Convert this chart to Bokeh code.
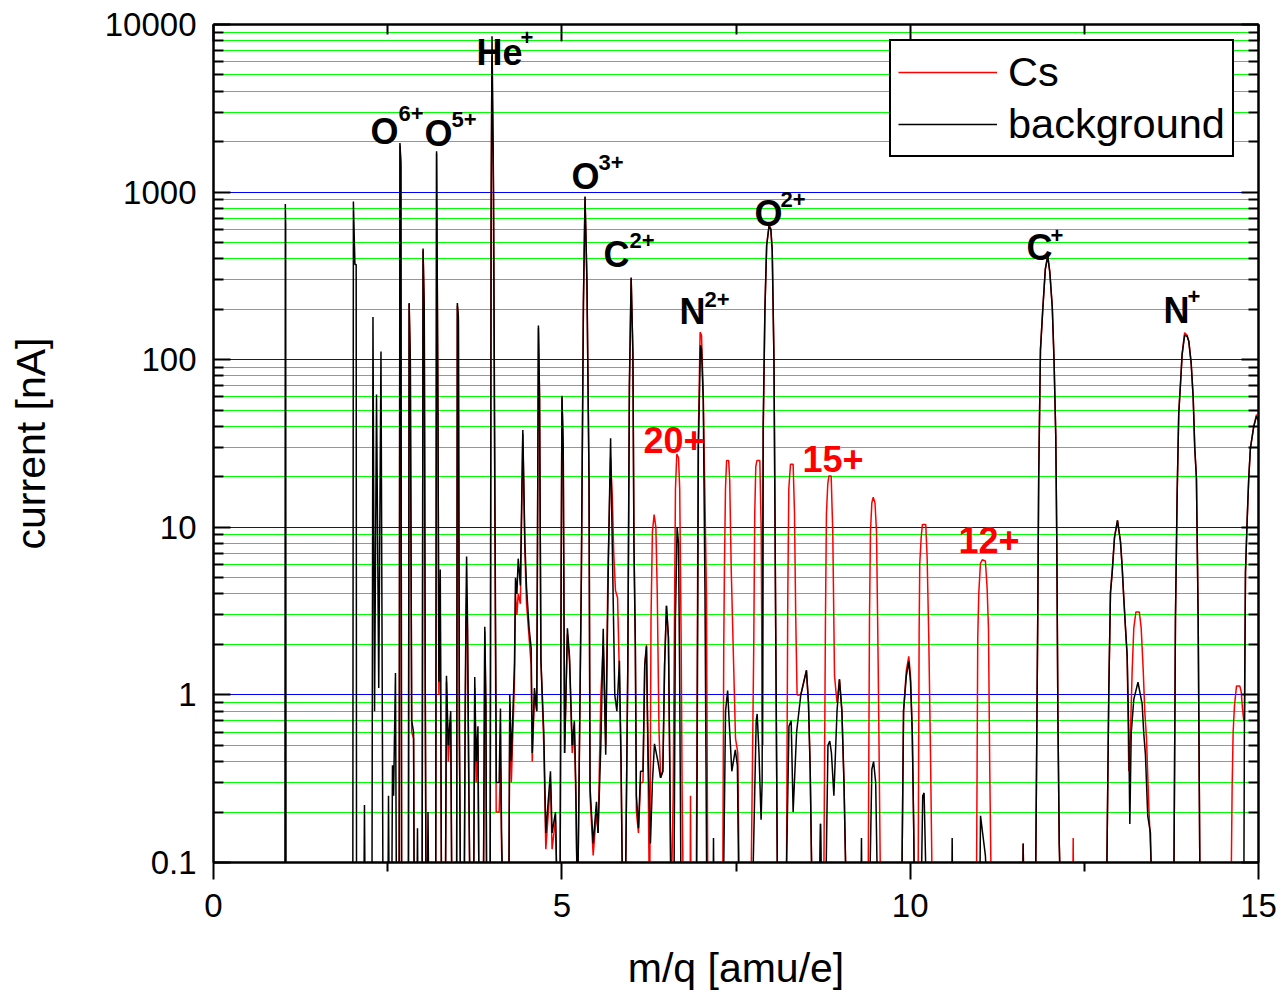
from bokeh.plotting import figure
from bokeh.models import (FixedTicker, LinearAxis, LogAxis, Range1d, Legend, LegendItem,
                          CustomJSTickFormatter, CustomLabelingPolicy)
from bokeh.core.properties import value
from bokeh.embed import file_html
from bokeh.resources import INLINE

# value used for points that lie below the 0.1 nA floor of the plot
F = 0.07

# (m/q [amu/e], current [nA]) -- background spectrum
bg_spectrum = [
    (1.025, F), (1.031, 850), (1.036, 640), (1.041, F),
    (2.000, F), (2.008, 880), (2.030, 370), (2.048, 370), (2.053, F),
    (2.160, F), (2.167, 0.22), (2.175, F),
    (2.275, F), (2.289, 180), (2.312, 0.8), (2.340, 62), (2.372, 1.1), (2.404, 112), (2.425, 0.5), (2.432, F),
    (2.505, F), (2.512, 0.25), (2.520, F),
    (2.560, F), (2.569, 0.38), (2.585, 0.25), (2.612, 1.35), (2.625, F),
    (2.665, F), (2.676, 1960), (2.690, 1500), (2.700, F),
    (2.798, F), (2.808, 218), (2.825, 100), (2.845, 0.7), (2.872, 0.6), (2.880, F),
    (2.922, F), (2.928, 0.16), (2.934, F),
    (2.995, F), (3.008, 460), (3.025, 200), (3.040, 1.0), (3.050, F),
    (3.072, F), (3.079, 0.2), (3.088, F),
    (3.190, F), (3.202, 1750), (3.222, 50), (3.235, 1.2), (3.255, 5.6), (3.272, F),
    (3.330, F), (3.344, 1.3), (3.370, 0.5), (3.405, 0.8), (3.420, F),
    (3.490, F), (3.500, 218), (3.515, 180), (3.530, 0.6), (3.545, F),
    (3.600, F), (3.612, 0.8), (3.625, 3.5), (3.633, 6.7), (3.645, 3.0), (3.665, 0.3), (3.680, F),
    (3.735, F), (3.750, 1.28), (3.770, 0.4), (3.796, 0.65), (3.810, F),
    (3.875, F), (3.894, 2.55), (3.910, 0.9), (3.920, F),
    (3.972, F), (3.985, 800), (3.998, 8500), (4.020, 1000), (4.040, 13), (4.060, 0.3), (4.100, 0.3),
    (4.119, 0.83), (4.135, 0.15), (4.150, F),
    (4.240, F), (4.253, 1.0), (4.275, 0.4), (4.320, 1.5), (4.335, 5.0), (4.355, 4.0), (4.374, 6.5),
    (4.405, 4.5), (4.440, 38), (4.470, 8), (4.493, 4.4), (4.530, 2.5), (4.560, 1.9), (4.575, 0.45),
    (4.607, 1.1), (4.640, 0.8), (4.664, 160), (4.680, 60), (4.700, 1.6), (4.741, 0.6), (4.770, 0.15),
    (4.837, 0.35), (4.860, 0.15), (4.909, 0.2), (4.930, F),
    (4.975, F), (4.990, 5), (5.002, 61), (5.020, 30), (5.040, 0.45), (5.080, 2.5), (5.110, 1.7),
    (5.149, 0.5), (5.180, 0.7), (5.200, 0.3), (5.220, F),
    (5.230, F), (5.280, 5), (5.310, 220), (5.333, 940), (5.360, 300), (5.390, 20), (5.405, 0.28),
    (5.450, 0.13), (5.497, 0.23), (5.520, 0.15),
    (5.560, 0.5), (5.594, 2.48), (5.630, 0.44), (5.670, 7), (5.700, 34), (5.720, 10), (5.760, 1.0),
    (5.790, 0.8), (5.827, 1.6), (5.850, 0.4), (5.870, F),
    (5.914, F), (5.947, 1.5), (5.970, 70), (5.995, 309), (6.020, 110), (6.035, 8), (6.055, 2),
    (6.070, 0.25), (6.100, 0.16), (6.130, 0.35), (6.165, 0.35), (6.190, 1.5), (6.215, 1.95),
    (6.240, 0.4), (6.272, 0.13), (6.300, 0.3), (6.330, 0.51), (6.380, 0.4), (6.416, 0.32),
    (6.450, 0.35), (6.475, 1.5), (6.502, 3.4), (6.530, 2.2), (6.548, 0.45), (6.565, F),
    (6.610, F), (6.630, 2.8), (6.655, 10), (6.675, 8), (6.690, 1.5), (6.710, F),
    (6.935, F), (6.960, 30), (6.990, 122), (7.005, 115), (7.030, 57), (7.055, 4), (7.080, F),
    (7.172, F), (7.177, 0.14), (7.182, F),
    (7.320, F), (7.350, 0.8), (7.380, 1.06), (7.410, 0.6), (7.440, 0.35), (7.490, 0.47), (7.520, 0.38), (7.540, F),
    (7.740, F), (7.790, 0.7), (7.804, 0.77), (7.830, 0.45), (7.860, 0.18), (7.875, 0.3), (7.890, 40),
    (7.915, 200), (7.940, 480), (7.975, 630), (8.000, 600), (8.020, 450), (8.045, 100), (8.070, 2.5), (8.095, F),
    (8.220, F), (8.260, 0.65), (8.292, 0.7), (8.320, 0.2), (8.370, 0.6), (8.430, 1.0), (8.511, 1.4),
    (8.540, 0.9), (8.565, 0.36), (8.590, F),
    (8.700, F), (8.713, 0.17), (8.726, F),
    (8.790, F), (8.820, 0.5), (8.846, 0.53), (8.870, 0.45), (8.905, 0.25), (8.950, 0.8), (8.985, 1.24),
    (9.020, 0.8), (9.050, 0.3), (9.080, F),
    (9.295, F), (9.301, 0.14), (9.307, F),
    (9.420, F), (9.450, 0.36), (9.475, 0.4), (9.505, 0.3), (9.530, F),
    (9.880, F), (9.905, 0.8), (9.945, 1.3), (9.980, 1.58), (10.005, 1.2), (10.030, 0.6), (10.050, 0.17), (10.060, F),
    (10.160, F), (10.180, 0.25), (10.200, 0.26), (10.230, F),
    (10.598, F), (10.603, 0.14), (10.608, F),
    (11.000, F), (11.010, 0.19), (11.040, 0.15), (11.080, 0.11), (11.100, F),
    (11.615, F), (11.622, 0.13), (11.630, F),
    (11.800, F), (11.830, 2.5), (11.845, 20), (11.870, 114), (11.905, 205), (11.940, 347), (11.975, 415),
    (12.005, 329), (12.040, 205), (12.065, 100), (12.090, 35), (12.105, 8), (12.120, 0.8), (12.140, 0.13), (12.155, F),
    (12.820, F), (12.851, 1.05), (12.875, 4.06), (12.900, 5.4), (12.933, 8.7), (12.976, 11), (13.019, 8.2),
    (13.043, 5.8), (13.066, 3.8), (13.091, 2.5), (13.115, 1.7), (13.138, 0.59), (13.153, 0.17), (13.173, 0.59),
    (13.210, 0.94), (13.270, 1.19), (13.330, 0.88), (13.353, 0.59), (13.377, 0.44), (13.410, 0.19),
    (13.449, 0.15), (13.465, F),
    (13.785, F), (13.808, 2.85), (13.832, 15.6), (13.855, 47.6), (13.880, 71.6), (13.904, 108), (13.940, 140),
    (13.975, 138), (13.999, 129), (14.033, 96), (14.062, 60), (14.085, 29.7), (14.109, 19.7), (14.134, 2.85), (14.160, F),
    (14.790, F), (14.798, 0.7), (14.813, 5.4), (14.837, 11), (14.860, 19.7), (14.884, 29.7), (14.932, 40),
    (14.971, 46), (15.000, 43), (15.030, 35),
]

# (m/q [amu/e], current [nA]) -- Cs spectrum
cs_spectrum = [
    (2.665, F), (2.677, 1900), (2.690, 1400), (2.700, F),
    (2.798, F), (2.808, 215), (2.825, 100), (2.845, 0.6), (2.872, 0.55), (2.880, F),
    (2.995, F), (3.008, 450), (3.025, 200), (3.040, 1.0), (3.050, F),
    (3.190, F), (3.202, 1700), (3.222, 50), (3.235, 1.0), (3.255, 3.5), (3.272, F),
    (3.330, F), (3.344, 1.2), (3.370, 0.4), (3.405, 0.7), (3.420, F),
    (3.490, F), (3.500, 210), (3.515, 170), (3.530, 0.5), (3.545, F),
    (3.600, F), (3.612, 0.6), (3.625, 2.5), (3.633, 3.8), (3.645, 2.5), (3.665, 0.25), (3.680, F),
    (3.735, F), (3.750, 1.1), (3.770, 0.3), (3.796, 0.5), (3.810, F),
    (3.875, F), (3.894, 2.4), (3.910, 0.8), (3.920, F),
    (3.970, F), (3.985, 600), (3.996, 6500), (4.015, 1500), (4.038, 13), (4.058, 0.2), (4.100, 0.2),
    (4.119, 0.37), (4.135, 0.12), (4.150, F),
    (4.240, F), (4.253, 0.9), (4.275, 0.3), (4.320, 1.2), (4.335, 4.0), (4.355, 3.0), (4.374, 4.0),
    (4.405, 3.5), (4.440, 36), (4.470, 7), (4.493, 3.5), (4.530, 2.2), (4.560, 1.5), (4.575, 0.4),
    (4.607, 1.0), (4.640, 0.8), (4.664, 155), (4.680, 60), (4.700, 1.6), (4.741, 0.5), (4.770, 0.12),
    (4.837, 0.3), (4.860, 0.12), (4.909, 0.18), (4.930, F),
    (4.975, F), (4.990, 5), (5.002, 60), (5.020, 30), (5.040, 0.45), (5.080, 2.3), (5.110, 1.6),
    (5.149, 0.45), (5.180, 0.6), (5.200, 0.25), (5.220, F),
    (5.230, F), (5.280, 5), (5.310, 220), (5.333, 930), (5.360, 300), (5.390, 20), (5.405, 0.25),
    (5.450, 0.11), (5.497, 0.2), (5.520, 0.15), (5.560, 1.0), (5.594, 2.0), (5.630, 0.5), (5.660, 5),
    (5.700, 26), (5.725, 15), (5.745, 7), (5.770, 4.2), (5.800, 3.8), (5.820, 1.7), (5.850, 0.4), (5.870, F),
    (5.914, F), (5.947, 1.5), (5.970, 70), (5.995, 305), (6.020, 110), (6.035, 8), (6.055, 2),
    (6.070, 0.2), (6.100, 0.15), (6.130, 0.3), (6.165, 0.3), (6.190, 1.5), (6.215, 2.0), (6.240, 0.3), (6.255, F),
    (6.262, F), (6.280, 2.8), (6.300, 9.4), (6.325, 11.9), (6.350, 10), (6.370, 4), (6.395, 0.6),
    (6.420, 0.32), (6.450, 0.35), (6.475, 1.5), (6.502, 3.4), (6.530, 2.2), (6.548, 0.4), (6.565, F),
    (6.574, F), (6.598, 0.25), (6.617, 2.8), (6.631, 17), (6.650, 27.3), (6.675, 26), (6.692, 17),
    (6.713, 2.0), (6.727, 0.25), (6.742, F),
    (6.842, F), (6.847, 0.25), (6.853, F),
    (6.930, F), (6.957, 31), (6.985, 146), (7.005, 140), (7.029, 65), (7.052, 17), (7.076, 4), (7.095, F),
    (7.310, F), (7.324, 1.9), (7.334, 5.7), (7.349, 17), (7.365, 25), (7.395, 25), (7.410, 19),
    (7.431, 5.7), (7.460, 1.9), (7.493, 0.55), (7.526, 0.45), (7.546, F),
    (7.716, F), (7.755, 2), (7.769, 12), (7.784, 23), (7.800, 25), (7.842, 25), (7.862, 9.4), (7.876, 0.8),
    (7.885, 0.5), (7.892, 40), (7.915, 200), (7.940, 480), (7.975, 640), (8.000, 600), (8.020, 450),
    (8.045, 100), (8.070, 2.5), (8.095, F),
    (8.224, F), (8.243, 3.7), (8.258, 17), (8.282, 23.8), (8.320, 23.8), (8.339, 12.6), (8.358, 2.8),
    (8.377, 1.0), (8.430, 1.0), (8.511, 1.4), (8.540, 0.9), (8.565, 0.36), (8.590, F),
    (8.700, F), (8.713, 0.17), (8.726, F),
    (8.760, F), (8.784, 2.8), (8.798, 12), (8.817, 18), (8.832, 20.2), (8.866, 20.2), (8.889, 9.4),
    (8.914, 1.3), (8.950, 0.9), (8.985, 1.24), (9.020, 0.8), (9.050, 0.3), (9.080, F),
    (9.397, F), (9.416, 2.8), (9.430, 9.4), (9.450, 14), (9.470, 15.1), (9.495, 14), (9.517, 9.4),
    (9.541, 1.5), (9.574, F),
    (9.880, F), (9.905, 0.8), (9.945, 1.4), (9.980, 1.7), (10.005, 1.3), (10.030, 0.6), (10.050, 0.17), (10.060, F),
    (10.114, F), (10.129, 2.5), (10.138, 6.1), (10.158, 8.7), (10.176, 10.4), (10.224, 10.4), (10.244, 6.5),
    (10.267, 2.2), (10.292, 0.44), (10.316, F),
    (10.952, F), (10.970, 2.2), (10.985, 4.06), (11.009, 6.1), (11.035, 6.4), (11.080, 6.3), (11.105, 4.3),
    (11.124, 2.5), (11.142, 0.37), (11.163, F),
    (11.615, F), (11.622, 0.13), (11.630, F),
    (11.800, F), (11.830, 2.5), (11.845, 20), (11.870, 114), (11.905, 205), (11.940, 347), (11.975, 420),
    (12.005, 335), (12.040, 205), (12.065, 100), (12.090, 35), (12.105, 8), (12.120, 0.8), (12.140, 0.13), (12.155, F),
    (12.335, F), (12.340, 0.14), (12.345, F),
    (12.820, F), (12.851, 1.05), (12.875, 4.06), (12.900, 5.4), (12.933, 8.7), (12.976, 11), (13.019, 8.2),
    (13.043, 5.8), (13.066, 3.8), (13.091, 2.5), (13.115, 1.7), (13.138, 0.35), (13.162, 0.59), (13.187, 1.41),
    (13.210, 2.5), (13.240, 3.12), (13.290, 3.12), (13.316, 2.5), (13.345, 1.41), (13.368, 0.79),
    (13.392, 0.55), (13.425, 0.22), (13.474, F),
    (13.785, F), (13.808, 2.85), (13.832, 15.6), (13.855, 47.6), (13.880, 71.6), (13.904, 108), (13.940, 145),
    (13.975, 140), (13.999, 129), (14.033, 96), (14.062, 60), (14.085, 29.7), (14.109, 19.7), (14.134, 2.85), (14.160, F),
    (14.607, F), (14.622, 0.29), (14.636, 0.6), (14.655, 0.86), (14.684, 1.13), (14.731, 1.13), (14.751, 1.05),
    (14.770, 0.83), (14.789, 0.7), (14.800, 0.7), (14.813, 5.4), (14.837, 11), (14.860, 19.7), (14.884, 29.7),
    (14.932, 40), (14.971, 47), (15.000, 45), (15.030, 35),
]

# axis ticks
x_major_ticks = [0, 5, 10, 15]
x_minor_ticks = [2.5, 7.5, 12.5]
y_major_ticks = [0.1, 1, 10, 100, 1000, 10000]
y_minor_ticks = [m * d for d in [0.1, 1, 10, 100, 1000] for m in range(2, 10)]

# peak annotations (ion, charge, label anchor in data units; anchor = left, vertical middle)
ion_name = ["O", "O", "He", "O", "C", "N", "O", "C", "N"]
ion_charge = ["6+", "5+", "+", "3+", "2+", "2+", "2+", "+", "+"]
ion_label_x = [2.253, 3.029, 3.775, 5.138, 5.598, 6.689, 7.765, 11.669, 13.636]
ion_label_y = [2284, 2222, 6808, 1231, 427, 194, 750, 470, 197]
charge_label_x = [2.655, 3.416, 4.406, 5.526, 5.971, 7.047, 8.138, 12.014, 13.980]
charge_label_y = [2944, 2712, 8308, 1512, 511, 230, 903, 551, 238]
cs_charge = ["20+", "15+", "12+"]
cs_label_x = [6.172, 8.454, 10.693]
cs_label_y = [33.4, 25.6, 8.40]

FONT = "Liberation Sans"

bg_mz = [pt[0] for pt in bg_spectrum]
bg_nA = [pt[1] for pt in bg_spectrum]
cs_mz = [pt[0] for pt in cs_spectrum]
cs_nA = [pt[1] for pt in cs_spectrum]

p = figure(width=1283, height=995, x_range=Range1d(0, 15), y_range=Range1d(0.1, 10000),
           y_axis_type="log", output_backend="svg", toolbar_location=None,
           min_border_left=213, min_border_right=25, min_border_top=24, min_border_bottom=133)
p.background_fill_color = "white"
p.border_fill_color = "white"
p.outline_line_color = "black"
p.outline_line_width = 2

xticker = FixedTicker(ticks=x_major_ticks, minor_ticks=x_minor_ticks)
yticker = FixedTicker(ticks=y_major_ticks, minor_ticks=y_minor_ticks)

xa = p.xaxis[0]
xa.ticker = xticker
ya = p.yaxis[0]
ya.ticker = yticker
ya.formatter = CustomJSTickFormatter(code="return tick < 1 ? tick.toFixed(1) : tick.toFixed(0);")

p.xgrid.visible = False
p.ygrid[0].ticker = yticker
p.ygrid.grid_line_color = "#0000ff"
p.ygrid.grid_line_width = 1
p.ygrid.minor_grid_line_color = "#00ff00"
p.ygrid.minor_grid_line_width = 1

for ax in (xa, ya):
    ax.axis_line_width = 2
    ax.major_tick_line_width = 2
    ax.minor_tick_line_width = 2
    ax.major_label_text_font = FONT
    ax.major_label_text_font_size = "33px"
    ax.major_label_text_color = "black"
    ax.axis_label_text_font = FONT
    ax.axis_label_text_font_size = "41px"
    ax.axis_label_text_font_style = "normal"
    ax.axis_label_text_color = "black"

xa.major_tick_out = 17
xa.major_tick_in = 0
xa.minor_tick_out = 9
xa.minor_tick_in = 0
xa.major_label_standoff = 14
xa.axis_label = "m/q [amu/e]"
xa.axis_label_standoff = 25

ya.major_tick_in = 17
ya.major_tick_out = 0
ya.minor_tick_in = 10
ya.minor_tick_out = 0
ya.major_label_standoff = 17
ya.axis_label = "current [nA]"
ya.axis_label_standoff = 48

no_labels = CustomLabelingPolicy(code="return new Set()")

top = LinearAxis(ticker=xticker, major_tick_in=17, major_tick_out=0, minor_tick_in=10, minor_tick_out=0,
                 major_label_text_font_size="10px", major_label_standoff=0, major_label_policy=no_labels,
                 axis_line_width=2, major_tick_line_width=2, minor_tick_line_width=2)
p.add_layout(top, "above")
right = LogAxis(ticker=yticker, major_tick_in=17, major_tick_out=0, minor_tick_in=10, minor_tick_out=0,
                major_label_text_font_size="10px", major_label_standoff=0, major_label_policy=no_labels,
                axis_line_width=2, major_tick_line_width=2, minor_tick_line_width=2)
p.add_layout(right, "right")

r_cs = p.line(cs_mz, cs_nA, line_color="#ff0000", line_width=1.5)
r_bg = p.line(bg_mz, bg_nA, line_color="black", line_width=1.5)

p.text(x=ion_label_x, y=ion_label_y, text=ion_name, text_font=value(FONT), text_font_style="bold",
       text_font_size="36px", text_align="left", text_baseline="middle", text_color="black")
p.text(x=charge_label_x, y=charge_label_y, text=ion_charge, text_font=value(FONT), text_font_style="bold",
       text_font_size="22px", text_align="left", text_baseline="middle", text_color="black")
p.text(x=cs_label_x, y=cs_label_y, text=cs_charge, text_font=value(FONT), text_font_style="bold",
       text_font_size="36px", text_align="left", text_baseline="middle", text_color="#ff0000")

legend = Legend(items=[LegendItem(label="Cs", renderers=[r_cs]),
                       LegendItem(label="background", renderers=[r_bg])],
                location=(676, 705), label_text_font=FONT, label_text_font_size="41.5px",
                label_text_color="black",
                glyph_width=99, glyph_height=20, label_standoff=11, padding=7, spacing=4, margin=0,
                border_line_color="black", border_line_width=2, border_line_alpha=1.0,
                background_fill_color="white", background_fill_alpha=1.0)
p.add_layout(legend)

open("out.html", "w").write(file_html(p, INLINE))
